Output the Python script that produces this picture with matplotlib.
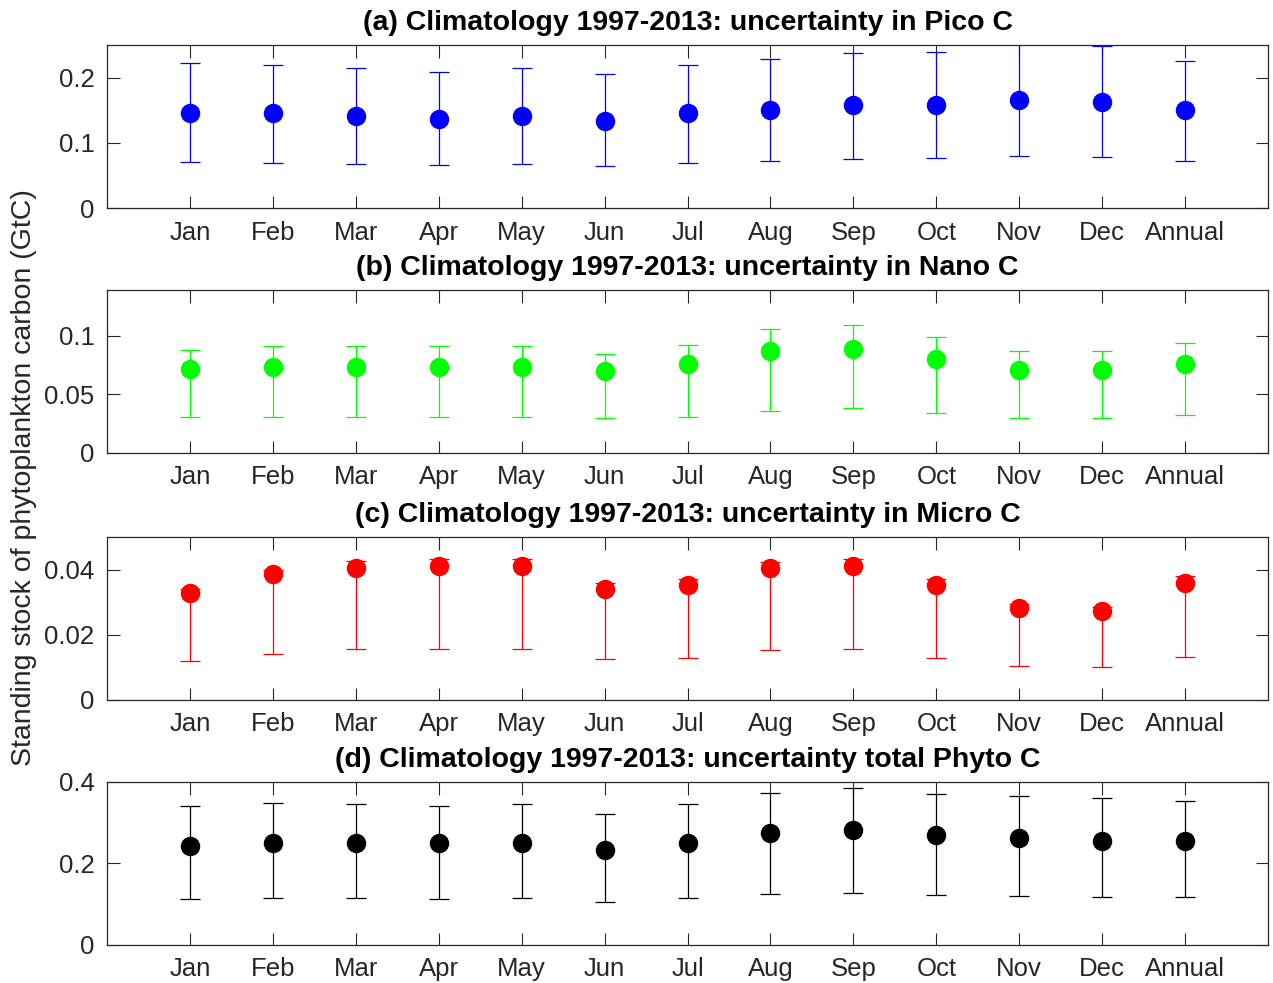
import numpy as np
import matplotlib
matplotlib.use('Agg')
import matplotlib.pyplot as plt

plt.rcParams['font.family'] = ['Liberation Sans', 'DejaVu Sans']

months = ['Jan', 'Feb', 'Mar', 'Apr', 'May', 'Jun', 'Jul', 'Aug', 'Sep', 'Oct', 'Nov', 'Dec', 'Annual']

# (a) Pico C
pico_mid = [0.146, 0.146, 0.1415, 0.137, 0.1415, 0.134, 0.146, 0.151, 0.158, 0.158, 0.166, 0.162, 0.151]
pico_low = [0.071, 0.069, 0.068, 0.066, 0.068, 0.065, 0.069, 0.072, 0.075, 0.077, 0.080, 0.078, 0.072]
pico_high = [0.223, 0.220, 0.215, 0.209, 0.214, 0.206, 0.220, 0.229, 0.238, 0.240, 0.253, 0.249, 0.226]

# (b) Nano C
nano_mid = [0.0712, 0.0737, 0.0737, 0.0737, 0.0737, 0.0695, 0.076, 0.087, 0.089, 0.0805, 0.071, 0.071, 0.076]
nano_low = [0.0305, 0.031, 0.031, 0.031, 0.031, 0.0297, 0.031, 0.036, 0.038, 0.034, 0.0297, 0.0297, 0.032]
nano_high = [0.088, 0.0915, 0.0915, 0.091, 0.091, 0.0847, 0.092, 0.106, 0.109, 0.099, 0.087, 0.087, 0.094]

# (c) Micro C
micro_mid = [0.0327, 0.0385, 0.0406, 0.0412, 0.0412, 0.0342, 0.0352, 0.0406, 0.0412, 0.0352, 0.0282, 0.0273, 0.0358]
micro_low = [0.0121, 0.0142, 0.0155, 0.0155, 0.0155, 0.0127, 0.013, 0.0152, 0.0155, 0.013, 0.0103, 0.010, 0.0133]
micro_high = [0.0342, 0.040, 0.0427, 0.0433, 0.0433, 0.036, 0.037, 0.0424, 0.0433, 0.037, 0.0294, 0.0285, 0.0379]

# (d) total Phyto C
total_mid = [0.244, 0.251, 0.251, 0.251, 0.251, 0.232, 0.251, 0.276, 0.283, 0.271, 0.263, 0.256, 0.256]
total_low = [0.112, 0.115, 0.115, 0.112, 0.115, 0.105, 0.115, 0.124, 0.127, 0.122, 0.120, 0.117, 0.117]
total_high = [0.341, 0.349, 0.347, 0.341, 0.347, 0.322, 0.347, 0.373, 0.385, 0.371, 0.366, 0.361, 0.354]

panels = [
    ('(a) Climatology 1997-2013: uncertainty in Pico C', pico_mid, pico_low, pico_high, 'b', 0.25, [0, 0.1, 0.2], ['0', '0.1', '0.2']),
    ('(b) Climatology 1997-2013: uncertainty in Nano C', nano_mid, nano_low, nano_high, (0, 1, 0), 0.139, [0, 0.05, 0.1], ['0', '0.05', '0.1']),
    ('(c) Climatology 1997-2013: uncertainty in Micro C', micro_mid, micro_low, micro_high, 'r', 0.05, [0, 0.02, 0.04], ['0', '0.02', '0.04']),
    ('(d) Climatology 1997-2013: uncertainty total Phyto C', total_mid, total_low, total_high, 'k', 0.4, [0, 0.2, 0.4], ['0', '0.2', '0.4']),
]

fig = plt.figure(figsize=(12.73, 9.83), dpi=100)
bottoms = [0.7884, 0.5392, 0.2879, 0.0387]
x = np.arange(1, len(months) + 1)
axcol = '#262626'

for (title, mid, low, high, col, ytop, yt, ytl), b in zip(panels, bottoms):
    ax = fig.add_axes([0.0841, b, 0.912, 0.1658])
    mid = np.array(mid)
    err = [mid - np.array(low), np.array(high) - mid]
    ax.errorbar(x, mid, yerr=err, fmt='o', color=col, ecolor=col, markersize=13,
                elinewidth=0.9, capsize=7, capthick=0.9)
    ax.set_xlim(0, 14)
    ax.set_ylim(0, ytop)
    ax.set_xticks(x)
    ax.set_xticklabels(months)
    ax.set_yticks(yt)
    ax.set_yticklabels(ytl)
    ax.tick_params(direction='in', length=9, width=0.8, top=True, right=True,
                   labelsize=18.5, colors=axcol, pad=9)
    for s in ax.spines.values():
        s.set_color(axcol)
        s.set_linewidth(0.9)
    ax.set_title(title, fontsize=20.5, fontweight='bold', pad=10.5)

fig.text(0.019, 0.514, 'Standing stock of phytoplankton carbon (GtC)', rotation=90,
         ha='center', va='center', fontsize=20.5, color=axcol)

plt.savefig('out.png', dpi=100)
